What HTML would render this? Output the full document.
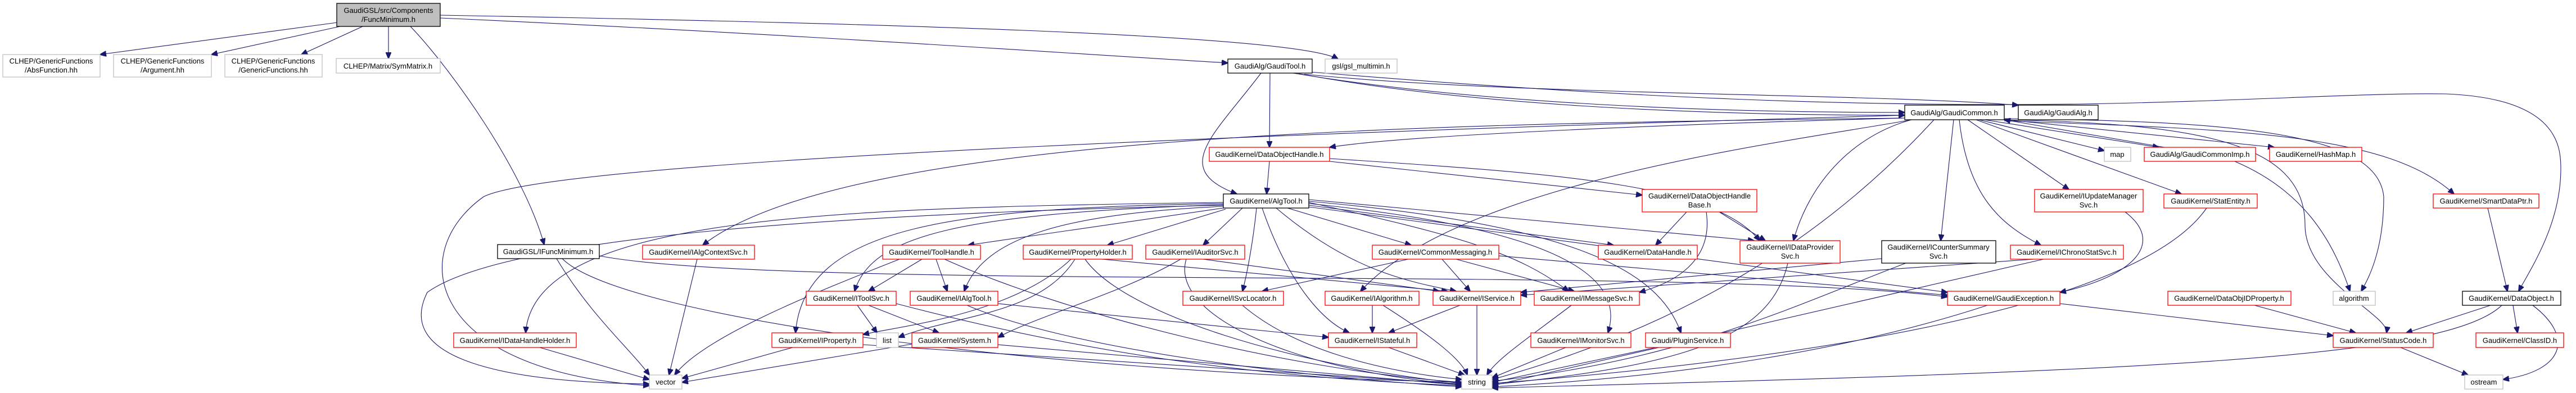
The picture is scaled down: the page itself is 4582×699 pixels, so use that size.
<!DOCTYPE html>
<html><head><meta charset="utf-8"><style>
html,body{margin:0;padding:0;background:#fff;}
svg{display:block;}
text{font-family:"Liberation Sans",Arial,sans-serif;font-size:13px;fill:#000;}
.r{fill:#fff;stroke:#ff0000;stroke-width:1.3;}
.k{fill:#fff;stroke:#000;stroke-width:1.3;}
.g{fill:#fff;stroke:#bfbfbf;stroke-width:1.3;}
.e path{fill:none;stroke:#191970;stroke-width:1.1;marker-end:url(#a);}
</style></head><body>
<svg width="4582" height="699" viewBox="0 0 4582 699" xmlns="http://www.w3.org/2000/svg">
<defs><marker id="a" markerUnits="userSpaceOnUse" markerWidth="12" markerHeight="10" refX="11" refY="5" orient="auto"><path d="M0,0 L12,5 L0,10 z" fill="#191970" stroke="#191970"/></marker></defs>
<g class="e">
<path d="M600,40 L178,97"/>
<path d="M605,47 L376,97"/>
<path d="M645,47 L536,97"/>
<path d="M691,47 L691,104"/>
<path d="M783,32 C1400,60 1900,95 2184,112"/>
<path d="M783,27 C1500,40 2300,60 2380,105"/>
<path d="M730,47 C800,120 930,300 968,435"/>
<path d="M990,460 C1050,560 1120,620 1155,667"/>
<path d="M1000,460 C1100,560 1800,660 2600,680"/>
<path d="M1066,455 C1400,520 3000,470 3464,528"/>
<path d="M960,618 L1155,675"/>
<path d="M2176,365 C1500,380 900,420 760,520 C700,640 900,680 1155,683"/>
<path d="M3388,205 C2500,230 1000,280 860,350 C720,450 760,660 1155,686"/>
<path d="M1240,461 L1190,667"/>
<path d="M3388,210 C2500,220 1500,240 1250,436"/>
<path d="M1640,461 L1545,518"/>
<path d="M1665,461 L1685,518"/>
<path d="M1600,461 C1450,520 1250,600 1200,667"/>
<path d="M1680,461 C1900,560 2300,660 2600,680"/>
<path d="M1905,461 C1800,560 1600,580 1535,595"/>
<path d="M1912,461 C1850,560 1700,560 1598,600"/>
<path d="M1930,461 C2000,560 2300,650 2600,682"/>
<path d="M1960,461 L2575,518"/>
<path d="M2100,461 C2000,520 1850,560 1775,600"/>
<path d="M2140,461 L2560,518"/>
<path d="M2110,461 C2080,560 2300,660 2600,684"/>
<path d="M1525,543 L1560,592"/>
<path d="M1545,543 L1670,592"/>
<path d="M1594,540 C1900,620 2200,670 2600,686"/>
<path d="M1720,543 C1900,620 2300,670 2600,688"/>
<path d="M1775,540 L2363,600"/>
<path d="M1410,618 L1213,673"/>
<path d="M1535,613 L2600,683"/>
<path d="M1622,612 L1213,680"/>
<path d="M1775,613 L2600,685"/>
<path d="M2243,130 C2160,240 2080,300 2200,345"/>
<path d="M2259,130 L2258,262"/>
<path d="M2300,130 C2600,180 3000,200 3388,200"/>
<path d="M2310,131 C2600,185 3000,205 3388,205"/>
<path d="M2320,132 C2700,170 3300,165 3590,187"/>
<path d="M2258,287 L2253,345"/>
<path d="M2365,287 L2921,347"/>
<path d="M2365,282 C2800,310 3050,330 3130,428"/>
<path d="M3388,210 C3000,220 2500,240 2365,262"/>
<path d="M2210,370 L2140,436"/>
<path d="M2235,370 C2230,420 2220,480 2210,518"/>
<path d="M2245,370 C2290,500 2350,570 2400,592"/>
<path d="M2270,370 C2400,480 2500,500 2590,518"/>
<path d="M2290,370 L2510,436"/>
<path d="M2328,360 C2600,420 2700,450 2790,518"/>
<path d="M2328,365 L2870,436"/>
<path d="M2328,362 C2700,400 2900,470 2860,592"/>
<path d="M2328,358 C2800,400 2950,480 2990,592"/>
<path d="M2328,355 L3120,428"/>
<path d="M2176,370 L1722,436"/>
<path d="M2180,372 L1970,436"/>
<path d="M2176,367 C1900,380 1750,420 1715,518"/>
<path d="M2176,364 C1700,380 1550,420 1520,518"/>
<path d="M2176,362 C1700,370 1430,400 1415,592"/>
<path d="M2176,360 C1500,370 950,380 935,592"/>
<path d="M2328,368 L3464,520"/>
<path d="M3000,377 L2945,436"/>
<path d="M3035,377 C3050,480 2950,510 2916,520"/>
<path d="M3058,377 L3140,428"/>
<path d="M2505,461 L2245,518"/>
<path d="M2565,461 L2615,518"/>
<path d="M2590,461 L2800,518"/>
<path d="M2666,455 L3464,525"/>
<path d="M2441,543 L2441,592"/>
<path d="M2460,543 C2550,600 2600,640 2610,667"/>
<path d="M2597,543 L2470,592"/>
<path d="M2627,543 L2627,667"/>
<path d="M2795,543 C2720,600 2660,640 2645,667"/>
<path d="M2210,543 C2300,620 2450,660 2600,675"/>
<path d="M2470,618 L2605,667"/>
<path d="M2785,618 L2654,672"/>
<path d="M2945,618 L2654,680"/>
<path d="M3520,213 L3743,268"/>
<path d="M3530,213 L3840,262"/>
<path d="M3850,262 L3565,213"/>
<path d="M3540,210 L4045,262"/>
<path d="M3500,213 L3680,337"/>
<path d="M3515,213 L3880,345"/>
<path d="M3475,213 L3452,428"/>
<path d="M3485,213 C3500,350 3560,400 3630,436"/>
<path d="M3400,213 C3300,240 3220,320 3190,428"/>
<path d="M3400,213 C3200,250 2600,320 2420,518"/>
<path d="M3565,215 C4000,230 4250,240 4365,345"/>
<path d="M3565,213 C3900,220 4100,250 4100,400 C4100,500 4250,560 4245,592"/>
<path d="M3565,211 C4000,215 4230,240 4240,350 C4240,450 4210,500 4200,518"/>
<path d="M2330,128 C2900,175 3300,190 3700,185 C4000,180 4200,165 4350,167 C4550,175 4555,260 4555,300 C4555,400 4500,480 4480,518"/>
<path d="M3440,213 C3250,420 3000,580 2654,675"/>
<path d="M3975,287 C4100,340 4150,430 4180,518"/>
<path d="M3780,377 C3850,430 3800,490 3664,520"/>
<path d="M3925,370 C3800,550 3200,640 2654,682"/>
<path d="M3390,468 C3200,540 3000,640 2654,678"/>
<path d="M3347,460 L2705,520"/>
<path d="M3618,461 L2705,525"/>
<path d="M3635,461 L2654,686"/>
<path d="M3535,543 C3300,620 3000,670 2654,688"/>
<path d="M3664,540 L4150,597"/>
<path d="M4010,543 L4190,592"/>
<path d="M4425,370 L4460,518"/>
<path d="M4430,543 L4280,592"/>
<path d="M4470,543 L4478,592"/>
<path d="M4505,543 C4580,600 4560,660 4452,675"/>
<path d="M4450,543 C4350,640 3800,660 2654,690"/>
<path d="M4270,618 L4390,667"/>
<path d="M3180,468 C3150,600 3000,650 2654,684"/>
</g>
<g>
<rect x="599" y="6" width="184" height="41" fill="#bfbfbf" stroke="#000" stroke-width="1.3"/>
<text x="691" y="23" text-anchor="middle">GaudiGSL/src/Components</text><text x="691" y="39" text-anchor="middle">/FuncMinimum.h</text>
<rect class="g" x="5" y="97" width="173" height="40"/><text x="91" y="113" text-anchor="middle">CLHEP/GenericFunctions</text><text x="91" y="129" text-anchor="middle">/AbsFunction.hh</text>
<rect class="g" x="202" y="97" width="174" height="40"/><text x="289" y="113" text-anchor="middle">CLHEP/GenericFunctions</text><text x="289" y="129" text-anchor="middle">/Argument.hh</text>
<rect class="g" x="400" y="97" width="173" height="40"/><text x="486" y="113" text-anchor="middle">CLHEP/GenericFunctions</text><text x="486" y="129" text-anchor="middle">/GenericFunctions.hh</text>
<rect class="g" x="598" y="104" width="185" height="26"/><text x="690" y="122" text-anchor="middle">CLHEP/Matrix/SymMatrix.h</text>
<rect class="k" x="885" y="435" width="181" height="25"/><text x="975" y="452" text-anchor="middle">GaudiGSL/IFuncMinimum.h</text>
<rect class="r" x="807" y="592" width="218" height="26"/><text x="916" y="610" text-anchor="middle">GaudiKernel/IDataHandleHolder.h</text>
<rect class="r" x="1143" y="436" width="199" height="25"/><text x="1242" y="453" text-anchor="middle">GaudiKernel/IAlgContextSvc.h</text>
<rect class="r" x="1570" y="436" width="174" height="25"/><text x="1657" y="453" text-anchor="middle">GaudiKernel/ToolHandle.h</text>
<rect class="r" x="1820" y="436" width="194" height="25"/><text x="1917" y="453" text-anchor="middle">GaudiKernel/PropertyHolder.h</text>
<rect class="r" x="2038" y="436" width="176" height="25"/><text x="2126" y="453" text-anchor="middle">GaudiKernel/IAuditorSvc.h</text>
<rect class="r" x="1434" y="518" width="160" height="25"/><text x="1514" y="535" text-anchor="middle">GaudiKernel/IToolSvc.h</text>
<rect class="r" x="1619" y="518" width="156" height="25"/><text x="1697" y="535" text-anchor="middle">GaudiKernel/IAlgTool.h</text>
<rect class="r" x="1373" y="592" width="162" height="26"/><text x="1454" y="610" text-anchor="middle">GaudiKernel/IProperty.h</text>
<rect class="g" x="1559" y="592" width="39" height="26"/><text x="1578" y="610" text-anchor="middle">list</text>
<rect class="r" x="1622" y="592" width="153" height="26"/><text x="1698" y="610" text-anchor="middle">GaudiKernel/System.h</text>
<rect class="g" x="1155" y="667" width="58" height="25"/><text x="1184" y="684" text-anchor="middle">vector</text>
<rect class="k" x="2184" y="105" width="150" height="25"/><text x="2259" y="122" text-anchor="middle">GaudiAlg/GaudiTool.h</text>
<rect class="g" x="2357" y="105" width="128" height="25"/><text x="2421" y="122" text-anchor="middle">gsl/gsl_multimin.h</text>
<rect class="r" x="2151" y="262" width="214" height="25"/><text x="2258" y="279" text-anchor="middle">GaudiKernel/DataObjectHandle.h</text>
<rect class="k" x="2176" y="345" width="152" height="25"/><text x="2252" y="362" text-anchor="middle">GaudiKernel/AlgTool.h</text>
<rect class="r" x="2921" y="337" width="204" height="40"/><text x="3023" y="353" text-anchor="middle">GaudiKernel/DataObjectHandle</text><text x="3023" y="369" text-anchor="middle">Base.h</text>
<rect class="r" x="2441" y="436" width="225" height="25"/><text x="2553" y="453" text-anchor="middle">GaudiKernel/CommonMessaging.h</text>
<rect class="r" x="2843" y="436" width="176" height="25"/><text x="2931" y="453" text-anchor="middle">GaudiKernel/DataHandle.h</text>
<rect class="r" x="3095" y="428" width="178" height="40"/><text x="3184" y="444" text-anchor="middle">GaudiKernel/IDataProvider</text><text x="3184" y="460" text-anchor="middle">Svc.h</text>
<rect class="r" x="2104" y="518" width="179" height="25"/><text x="2193" y="535" text-anchor="middle">GaudiKernel/ISvcLocator.h</text>
<rect class="r" x="2357" y="518" width="167" height="25"/><text x="2440" y="535" text-anchor="middle">GaudiKernel/IAlgorithm.h</text>
<rect class="r" x="2549" y="518" width="156" height="25"/><text x="2627" y="535" text-anchor="middle">GaudiKernel/IService.h</text>
<rect class="r" x="2729" y="518" width="187" height="25"/><text x="2822" y="535" text-anchor="middle">GaudiKernel/IMessageSvc.h</text>
<rect class="r" x="2363" y="592" width="157" height="26"/><text x="2441" y="610" text-anchor="middle">GaudiKernel/IStateful.h</text>
<rect class="r" x="2723" y="592" width="178" height="26"/><text x="2812" y="610" text-anchor="middle">GaudiKernel/IMonitorSvc.h</text>
<rect class="r" x="2927" y="592" width="151" height="26"/><text x="3002" y="610" text-anchor="middle">Gaudi/PluginService.h</text>
<rect class="g" x="2600" y="667" width="54" height="25"/><text x="2627" y="684" text-anchor="middle">string</text>
<rect class="k" x="3388" y="187" width="177" height="26"/><text x="3476" y="205" text-anchor="middle">GaudiAlg/GaudiCommon.h</text>
<rect class="k" x="3590" y="187" width="142" height="26"/><text x="3661" y="205" text-anchor="middle">GaudiAlg/GaudiAlg.h</text>
<rect class="g" x="3743" y="262" width="47" height="25"/><text x="3766" y="279" text-anchor="middle">map</text>
<rect class="r" x="3814" y="262" width="198" height="25"/><text x="3913" y="279" text-anchor="middle">GaudiAlg/GaudiCommonImp.h</text>
<rect class="r" x="4037" y="262" width="164" height="25"/><text x="4119" y="279" text-anchor="middle">GaudiKernel/HashMap.h</text>
<rect class="r" x="3619" y="337" width="193" height="40"/><text x="3715" y="353" text-anchor="middle">GaudiKernel/IUpdateManager</text><text x="3715" y="369" text-anchor="middle">Svc.h</text>
<rect class="r" x="3849" y="345" width="166" height="25"/><text x="3932" y="362" text-anchor="middle">GaudiKernel/StatEntity.h</text>
<rect class="k" x="3347" y="428" width="203" height="40"/><text x="3448" y="444" text-anchor="middle">GaudiKernel/ICounterSummary</text><text x="3448" y="460" text-anchor="middle">Svc.h</text>
<rect class="r" x="3576" y="436" width="201" height="25"/><text x="3676" y="453" text-anchor="middle">GaudiKernel/IChronoStatSvc.h</text>
<rect class="r" x="3464" y="518" width="200" height="25"/><text x="3564" y="535" text-anchor="middle">GaudiKernel/GaudiException.h</text>
<rect class="r" x="3856" y="518" width="219" height="25"/><text x="3965" y="535" text-anchor="middle">GaudiKernel/DataObjIDProperty.h</text>
<rect class="r" x="4328" y="345" width="188" height="25"/><text x="4422" y="362" text-anchor="middle">GaudiKernel/SmartDataPtr.h</text>
<rect class="g" x="4150" y="518" width="75" height="25"/><text x="4187" y="535" text-anchor="middle">algorithm</text>
<rect class="k" x="4380" y="518" width="175" height="25"/><text x="4467" y="535" text-anchor="middle">GaudiKernel/DataObject.h</text>
<rect class="r" x="4150" y="592" width="178" height="26"/><text x="4239" y="610" text-anchor="middle">GaudiKernel/StatusCode.h</text>
<rect class="r" x="4404" y="592" width="156" height="26"/><text x="4482" y="610" text-anchor="middle">GaudiKernel/ClassID.h</text>
<rect class="g" x="4384" y="667" width="68" height="25"/><text x="4418" y="684" text-anchor="middle">ostream</text>
</g>
</svg>
</body></html>
